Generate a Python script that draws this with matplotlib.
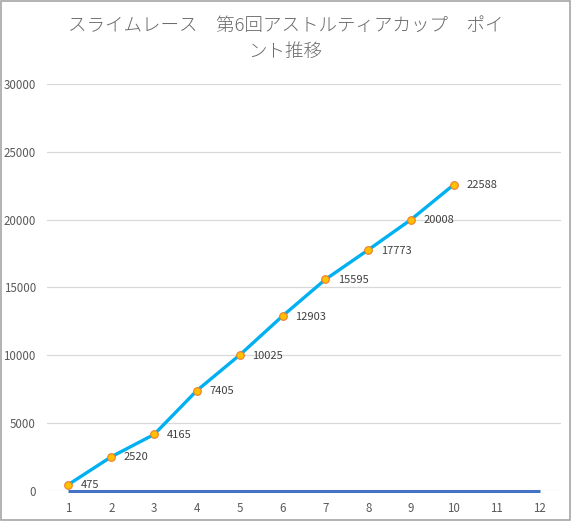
import matplotlib.pyplot as plt

plt.rcParams['font.family'] = ['Noto Sans CJK JP', 'DejaVu Sans']

# data
races = [1, 2, 3, 4, 5, 6, 7, 8, 9, 10]
points = [475, 2520, 4165, 7405, 10025, 12903, 15595, 17773, 20008, 22588]
all_cats = [1, 2, 3, 4, 5, 6, 7, 8, 9, 10, 11, 12]
zero_series = [0] * 12
y_ticks = [0, 5000, 10000, 15000, 20000, 25000, 30000]
title = 'スライムレース　第6回アストルティアカップ　ポイ\nント推移'

fig = plt.figure(figsize=(5.71, 5.21), dpi=100)
ax = fig.add_axes([0.0823, 0.0576, 0.9002, 0.7812])

ax.plot(all_cats, zero_series, color='#4472C4', lw=2.2, zorder=2,
        solid_capstyle='butt', clip_on=False)
ax.plot(races, points, color='#00B0F0', lw=2.4, zorder=3,
        marker='o', ms=5.5, mfc='#FFC000', mec='#ED7D31', mew=0.8)

for x, y in zip(races, points):
    ax.annotate(str(y), (x, y), xytext=(9, -0.5), textcoords='offset points',
                fontsize=8, color='#404040', va='center', ha='left')

ax.set_xlim(0.5, 12.5)
ax.set_ylim(0, 30000)
ax.set_xticks(all_cats)
ax.set_yticks(y_ticks)
ax.tick_params(length=0, labelsize=8.3, labelcolor='#595959', pad=8)
ax.grid(axis='y', color='#D9D9D9', lw=0.9)
ax.set_axisbelow(True)
for s in ax.spines.values():
    s.set_visible(False)

fig.text(0.5, 0.925, title, ha='center', va='center', fontsize=13.3,
         color='#6A6A6A', linespacing=1.62, fontweight='light')

# outer border
fig.patches.append(plt.Rectangle((0.001, 0.001), 0.997, 0.997, transform=fig.transFigure,
                                 fill=False, edgecolor='#A6A6A6', lw=1.2))

fig.savefig('out.png', dpi=100)
